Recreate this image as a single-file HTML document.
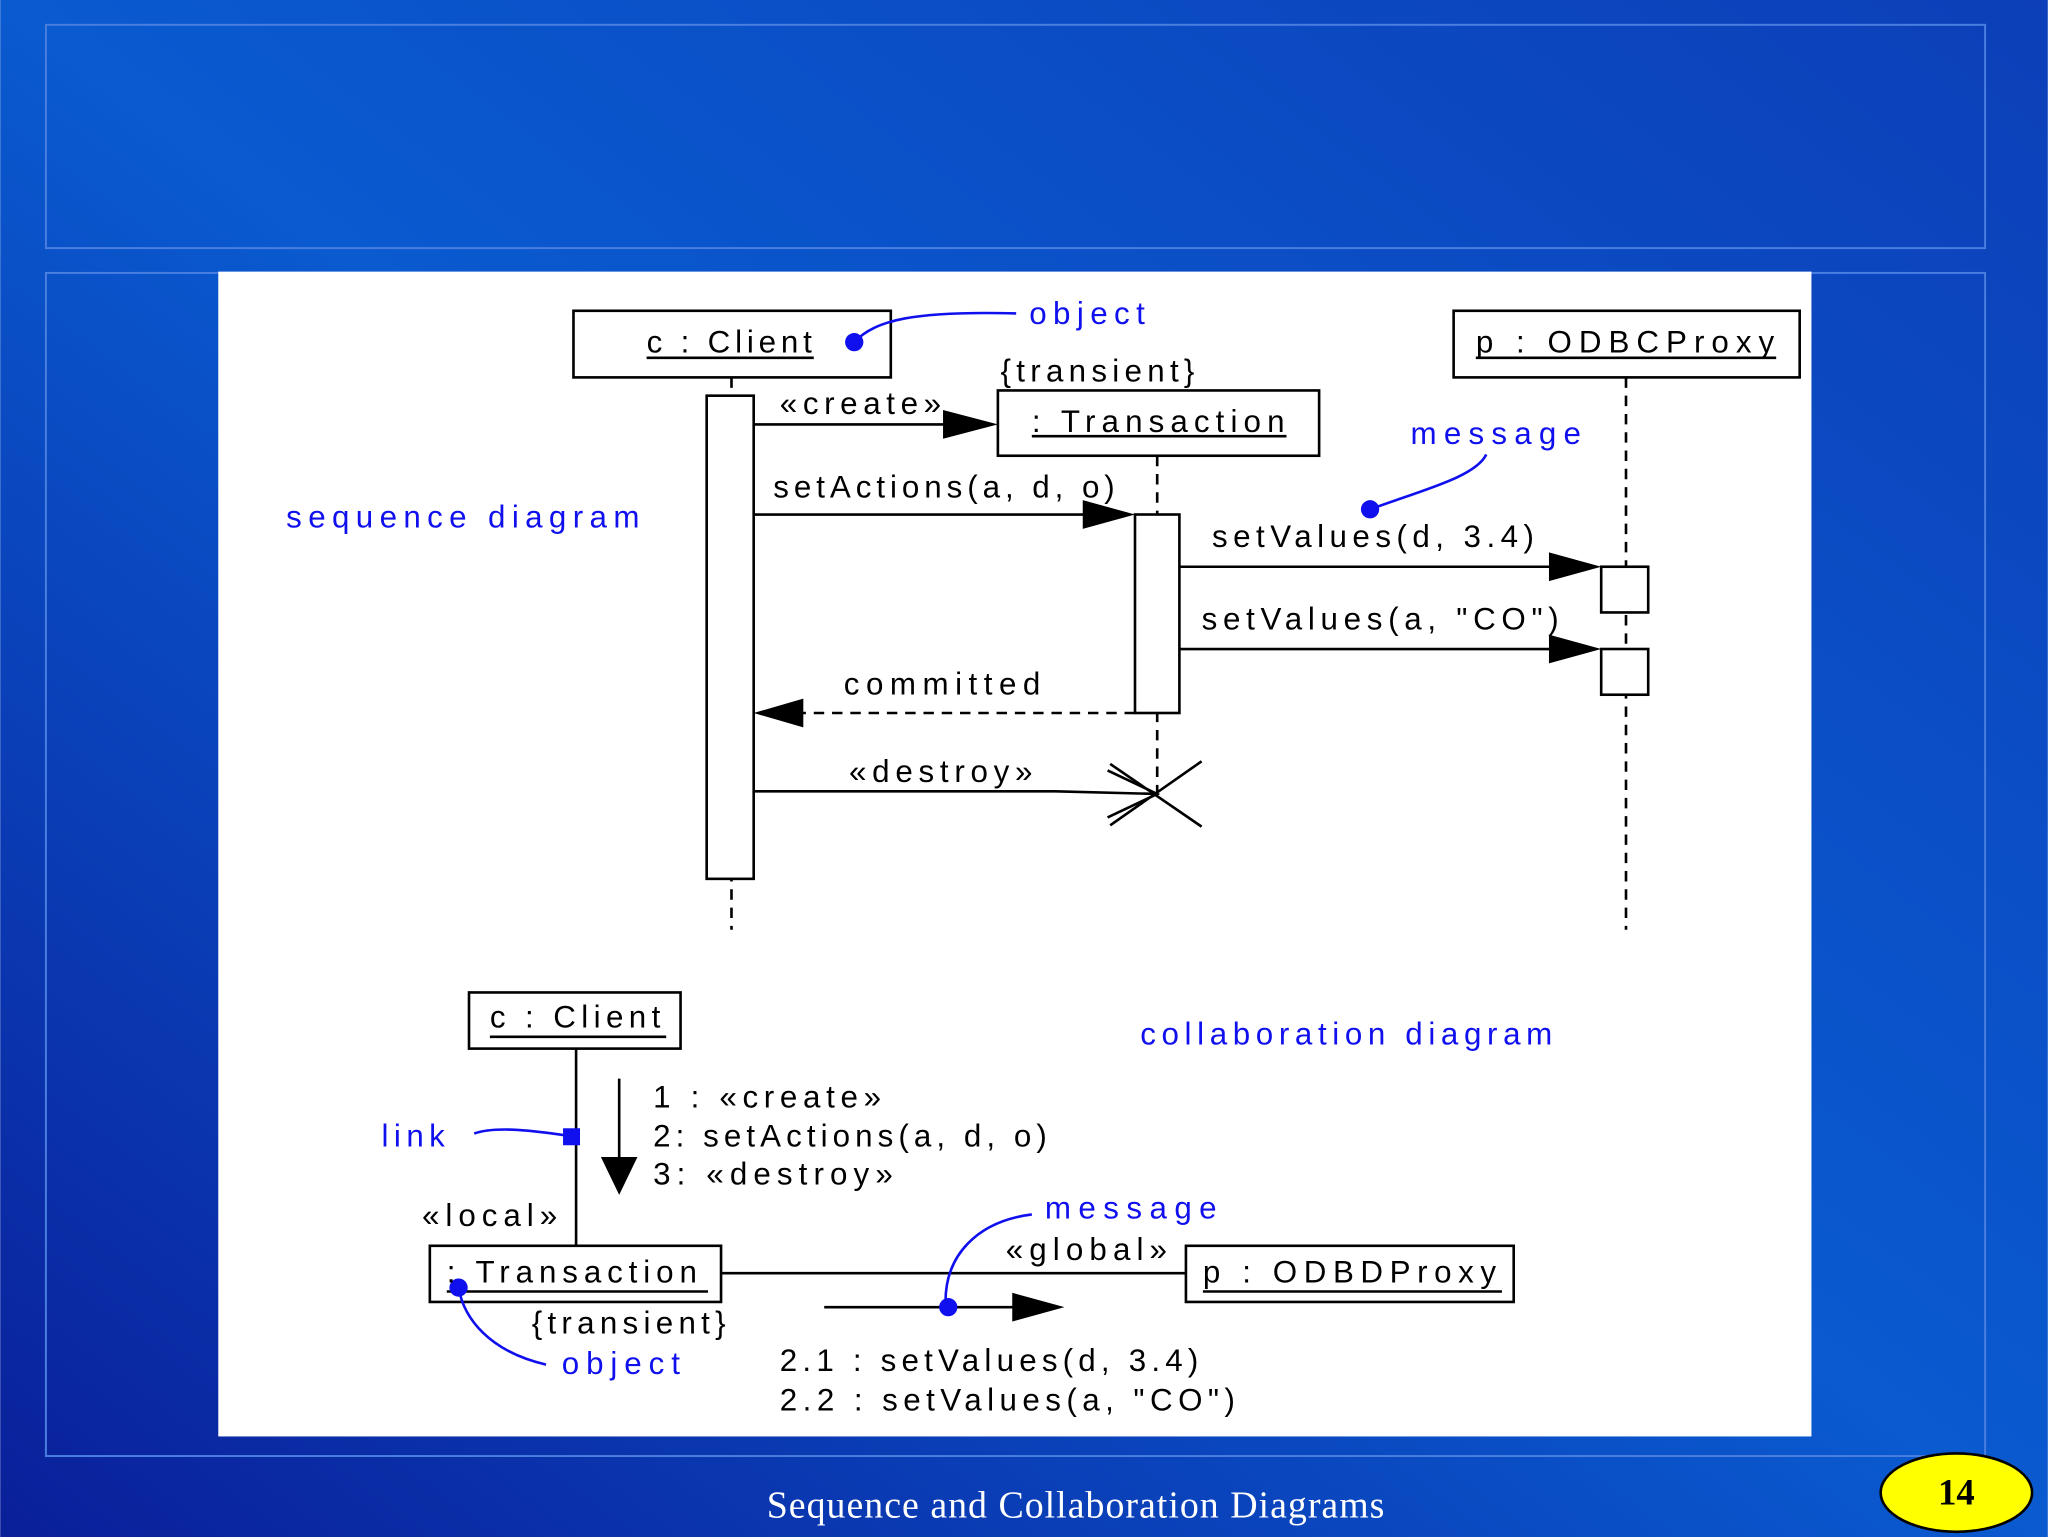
<!DOCTYPE html>
<html><head><meta charset="utf-8"><style>
html,body{margin:0;padding:0;width:2048px;height:1537px;overflow:hidden}
svg{display:block}
text{font-family:"Liberation Sans",sans-serif;font-size:24px;letter-spacing:1.5px}
.b{fill:#1010ee}
</style></head><body>
<svg width="2048" height="1537" viewBox="0 0 1568 1177" xmlns="http://www.w3.org/2000/svg">
<defs>
<linearGradient id="bg" x1="0" y1="1" x2="1" y2="0">
<stop offset="0" stop-color="#0a1f9a"/><stop offset="0.5" stop-color="#0a5ad0"/><stop offset="1" stop-color="#0c3fb8"/>
</linearGradient>
</defs>
<rect width="1568" height="1177" fill="url(#bg)"/>
<rect x="35" y="19" width="1485" height="171" fill="none" stroke="#4a7fe0" stroke-width="1.5"/>
<rect x="35" y="209" width="1485" height="906" fill="none" stroke="#4a7fe0" stroke-width="1.5"/>
<rect x="167" y="208" width="1220" height="892" fill="#fff"/>
<text x="587" y="1162" textLength="473" style="font-family:'Liberation Serif',serif;font-size:29px;letter-spacing:0" fill="#fff">Sequence and Collaboration Diagrams</text>
<ellipse cx="1498" cy="1143" rx="58" ry="30" fill="#ffff00" stroke="#000" stroke-width="2"/>
<text x="1498" y="1152" text-anchor="middle" style="font-family:'Liberation Serif',serif;font-size:28px;font-weight:bold;letter-spacing:0">14</text>

<g stroke="#000" stroke-width="2" fill="none">
<rect x="439" y="238" width="243" height="51"/>
<rect x="1113" y="238" width="265" height="51"/>
<rect x="764" y="299" width="246" height="50"/>
<line x1="560" y1="289" x2="560" y2="712" stroke-dasharray="8,6"/>
<line x1="886" y1="349" x2="886" y2="610" stroke-dasharray="8,6"/>
<line x1="1245" y1="289" x2="1245" y2="712" stroke-dasharray="8,6"/>
<rect x="541" y="303" width="36" height="370" fill="#fff"/>
<rect x="869" y="394" width="34" height="152" fill="#fff"/>
<rect x="1226" y="434" width="36" height="35" fill="#fff"/>
<rect x="1226" y="497" width="36" height="35" fill="#fff"/>
<line x1="577" y1="325" x2="725" y2="325"/>
<line x1="577" y1="394" x2="832" y2="394"/>
<line x1="903" y1="434" x2="1188" y2="434"/>
<line x1="903" y1="497" x2="1188" y2="497"/>
<line x1="869" y1="546" x2="614" y2="546" stroke-dasharray="8,6"/>
<polyline points="577,606 808,606 886,608"/>
<polyline points="848,590 886,608 848,626"/>
<line x1="850" y1="585" x2="920" y2="633"/>
<line x1="920" y1="583" x2="850" y2="632"/>
<line x1="495" y1="274" x2="623" y2="274"/>
<line x1="1130" y1="274" x2="1360" y2="274"/>
<line x1="790" y1="334" x2="985" y2="334"/>
<rect x="359" y="760" width="162" height="43"/>
<rect x="329" y="954" width="223" height="43"/>
<rect x="908" y="954" width="251" height="43"/>
<line x1="375" y1="794" x2="510" y2="794"/>
<line x1="342" y1="989" x2="542" y2="989"/>
<line x1="921" y1="989" x2="1150" y2="989"/>
<line x1="441" y1="803" x2="441" y2="954"/>
<line x1="474" y1="826" x2="474" y2="890"/>
<line x1="552" y1="975" x2="908" y2="975"/>
<line x1="631" y1="1001" x2="778" y2="1001"/>
</g>
<g fill="#000">
<polygon points="722,314 764,325 722,336"/>
<polygon points="829,383 869,394 829,405"/>
<polygon points="1186,423 1226,434 1186,445"/>
<polygon points="1186,486 1226,497 1186,508"/>
<polygon points="615,535 577,546 615,557"/>
<polygon points="460,886 488,886 474,915"/>
<polygon points="775,990 815,1001 775,1012"/>
</g>
<g stroke="#1010ee" stroke-width="2" fill="none">
<path d="M654,262 C670,245 700,238 778,240"/>
<path d="M1138,348 C1130,365 1090,375 1049,390"/>
<path d="M363,868 C380,862 410,866 437,870"/>
<path d="M790,930 C750,935 722,960 724,1001"/>
<path d="M351,986 C355,1010 375,1035 418,1045"/>
</g>
<g class="b">
<circle cx="654" cy="262" r="7"/><circle cx="1049" cy="390" r="7"/>
<rect x="431" y="864" width="13" height="13"/><circle cx="726" cy="1001" r="7"/><circle cx="351" cy="986" r="7"/>
</g>
<text x="495" y="270" textLength="128">c : Client</text>
<text x="1130" y="270" textLength="230">p : ODBCProxy</text>
<text x="790" y="331" textLength="195">: Transaction</text>
<text x="766" y="292" textLength="150">{transient}</text>
<text x="597" y="317" textLength="125">«create»</text>
<text x="592" y="381" textLength="263">setActions(a, d, o)</text>
<text x="928" y="419" textLength="248">setValues(d, 3.4)</text>
<text x="920" y="482" textLength="275">setValues(a, "CO")</text>
<text x="646" y="532" textLength="152">committed</text>
<text x="650" y="599" textLength="142">«destroy»</text>
<text class="b" x="788" y="248" textLength="90">object</text>
<text class="b" x="1080" y="340" textLength="132">message</text>
<text class="b" x="219" y="404" textLength="272">sequence diagram</text>
<text x="375" y="787" textLength="132">c : Client</text>
<text class="b" x="873" y="800" textLength="317">collaboration diagram</text>
<text x="500" y="848" textLength="176">1 : «create»</text>
<text x="500" y="878" textLength="303">2: setActions(a, d, o)</text>
<text x="500" y="907" textLength="185">3: «destroy»</text>
<text class="b" x="292" y="878" textLength="50">link</text>
<text x="323" y="939" textLength="105">«local»</text>
<text x="342" y="982" textLength="193">: Transaction</text>
<text x="921" y="982" textLength="226">p : ODBDProxy</text>
<text x="770" y="965" textLength="125">«global»</text>
<text class="b" x="800" y="933" textLength="133">message</text>
<text x="407" y="1021" textLength="150">{transient}</text>
<text class="b" x="430" y="1052" textLength="92">object</text>
<text x="597" y="1050" textLength="322">2.1 : setValues(d, 3.4)</text>
<text x="597" y="1080" textLength="350">2.2 : setValues(a, "CO")</text>
</svg>
</body></html>
